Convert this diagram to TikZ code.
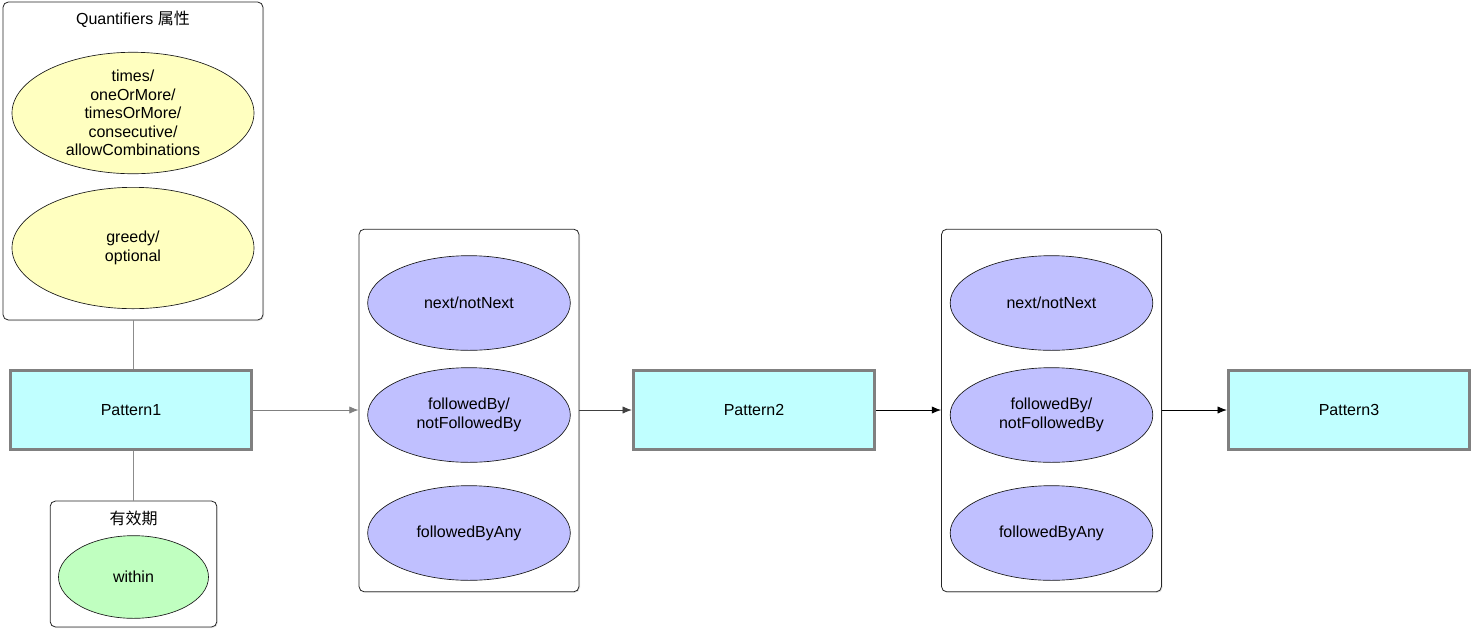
\documentclass[tikz,border=0pt]{standalone}
\usepackage{fontspec}
\setmainfont{Liberation Sans}
\newfontfamily\cjk{Noto Sans CJK SC}
\usetikzlibrary{arrows.meta,shapes.geometric,shadows}
\definecolor{patfill}{HTML}{C0FFFF}
\definecolor{quantfill}{HTML}{FFFFC0}
\definecolor{opfill}{HTML}{C0C0FF}
\definecolor{timefill}{HTML}{C0FFC0}
\begin{document}
\begin{tikzpicture}[
        x=0.75pt, y=-0.75pt,
        every node/.style={font=\fontsize{12}{13.9}\selectfont, align=center},
        groupbox/.style={draw=black!85, line width=0.6pt, rounded corners=4pt, fill=white,
          drop shadow={opacity=0.2, shadow xshift=0.8pt, shadow yshift=-0.8pt}},
        grouptitle/.style={inner sep=0pt},
        patbox/.style={draw=black!50, line width=2.2pt, fill=patfill,
          minimum width=181pt, minimum height=59.5pt,
          drop shadow={opacity=0.15, shadow xshift=0.8pt, shadow yshift=-0.8pt}},
        opellipse/.style={ellipse, draw=black!90, line width=0.5pt, inner sep=0pt},
        stem/.style={draw=black!45, line width=0.6pt},
        link/.style={line width=0.6pt, -{Latex[length=7pt, width=5.5pt]}}
      ]
      \useasboundingbox (0,0) rectangle (1472,633);
      % quantifier group
      \node[groupbox, minimum width=195pt, minimum height=238.5pt] (quant) at (133,161) {};
      \node[grouptitle] (quanttitle) at (133,19) {Quantifiers {\cjk 属性}};
      \node[opellipse, fill=quantfill, minimum width=181.5pt, minimum height=88pt] (times) at (133,113)
        {times/\\oneOrMore/\\timesOrMore/\\consecutive/\\allowCombinations};
      \node[opellipse, fill=quantfill, minimum width=181.5pt, minimum height=91pt] (greedy) at (133,248)
        {greedy/\\optional};
      % window group
      \node[groupbox, minimum width=125pt, minimum height=94.5pt] (window) at (133.5,564) {};
      \node[grouptitle] (windowtitle) at (133.5,518) {\cjk 有效期};
      \node[opellipse, fill=timefill, minimum width=112.5pt, minimum height=62pt] (within) at (133.5,577) {within};
      % patterns
      \node[patbox] (p1) at (131,410) {Pattern1};
      \node[patbox] (p2) at (754,410) {Pattern2};
      \node[patbox] (p3) at (1349,410) {Pattern3};
      % contiguity groups
      \foreach \s/\cx in {a/469, b/1051.5}{
        \node[groupbox, minimum width=165pt, minimum height=272pt] (stage\s) at (\cx,410.5) {};
        \foreach \op/\lbl/\cy in {%
          next/{next/notNext}/303,
          fby/{followedBy/\\notFollowedBy}/415,
          any/{followedByAny}/533%
        }{
          \node[opellipse, fill=opfill, minimum width=152pt, minimum height=71pt] (\s-\op) at (\cx,\cy) {\lbl};
        }
      }
      \draw[stem] (quant.south) -- (quant.south |- p1.north);
      \draw[stem] (window.north) -- (window.north |- p1.south);
      \draw[link, draw=black!50] (p1.east) -- (p1.east -| stagea.west);
      \draw[link, draw=black!75] (p2.west -| stagea.east) -- (p2.west);
      \draw[link] (p2.east) -- (p2.east -| stageb.west);
      \draw[link] (p3.west -| stageb.east) -- (p3.west);
    \end{tikzpicture}
\end{document}
